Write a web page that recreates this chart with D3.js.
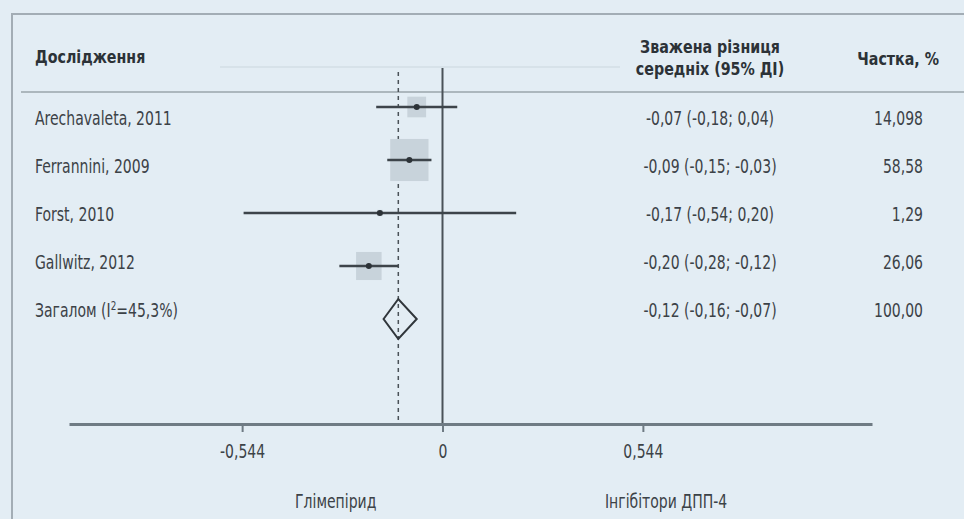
<!DOCTYPE html>
<html>
<head>
<meta charset="utf-8">
<script src="https://cdn.jsdelivr.net/npm/d3@7"></script>
<style>
  body { margin: 0; background: #e3edf4; }
  svg { display: block; }
  text { font-family: "DejaVu Sans Condensed", "Liberation Sans Narrow", sans-serif; fill: #3c4247; }
  .head { font-weight: bold; fill: #2c3237; }
</style>
</head>
<body>
<svg id="forest" width="964" height="519"></svg>
<script>
/* DATA */

const studies = ['Arechavaleta, 2011', 'Ferrannini, 2009', 'Forst, 2010', 'Gallwitz, 2012']
const estimates = [-0.07, -0.09, -0.17, -0.20]
const lower = [-0.18, -0.15, -0.54, -0.28]
const upper = [0.04, -0.03, 0.20, -0.12]
const weights = [14.098, 58.58, 1.29, 26.06]

const overallLabel = 'Загалом (I'
const overall = { est: -0.12, lo: -0.16, hi: -0.07, weight: '100,00', i2: '=45,3%)' }

const tickValues = [-0.544, 0, 0.544]
const sideLabels = ['Глімепірид', 'Інгібітори ДПП-4']

/* HELPERS */

const comma = v => v.toFixed(2).replace('.', ',')
const ciText = (e, l, u) => `${comma(e)} (${comma(l)}; ${comma(u)})`
const weightText = w => String(w).replace('.', ',')

// condensed look: squeeze text horizontally around its anchor point
const squeeze = 0.82
const squeezeBold = 0.88

function addText (parent, x, y, str, anchor, size, bold) {
  const t = parent.append('g')
    .attr('transform', `translate(${x},${y}) scale(${bold ? squeezeBold : squeeze},1)`)
    .append('text')
    .attr('text-anchor', anchor || 'start')
    .style('font-size', (size || 19) + 'px')
  if (bold) t.attr('class', 'head')
  if (str !== null) t.text(str)
  return t
}

/* LAYOUT */

const svg = d3.select('#forest')
const rowIds = d3.range(studies.length + 1)

// pixel scale: zero at 442.7, 0.544 ~ 200 px
const x = d3.scaleLinear().domain([-1.014, 1.166]).range([69, 872])
const yMark = d3.scalePoint().domain(rowIds).range([107, 319])
const yText = d3.scalePoint().domain(rowIds).range([125, 317])
const boxW = d3.scaleSqrt().domain([0, 100]).range([0, 50])

const lineCol = '#3d444a'
const axisY = 424

// Frame
svg.append('path')
  .attr('d', 'M12,519 V14 H964')
  .attr('fill', 'none')
  .attr('stroke', '#a3adb5')
  .attr('stroke-width', 2)

// Faint line above plot
svg.append('line')
  .attr('x1', 220).attr('x2', 620)
  .attr('y1', 67).attr('y2', 67)
  .attr('stroke', '#d3dee6')
  .attr('stroke-width', 1.5)

// Header rule
svg.append('line')
  .attr('x1', 21).attr('x2', 964)
  .attr('y1', 92).attr('y2', 92)
  .attr('stroke', '#9aa4ab')
  .attr('stroke-width', 1.5)

/* HEADERS */

addText(svg, 35, 63, 'Дослідження', 'start', 18, true)
addText(svg, 710, 53, 'Зважена різниця', 'middle', 18, true)
addText(svg, 710, 75, 'середніх (95% ДІ)', 'middle', 18, true)
addText(svg, 939, 65, 'Частка, %', 'end', 18, true)

/* REFERENCE LINES */

svg.append('line')
  .attr('x1', x(0)).attr('x2', x(0))
  .attr('y1', 68).attr('y2', axisY)
  .attr('stroke', '#4a5258')
  .attr('stroke-width', 2)

svg.append('line')
  .attr('x1', x(overall.est)).attr('x2', x(overall.est))
  .attr('y1', 72).attr('y2', axisY)
  .attr('stroke', '#4a5258')
  .attr('stroke-width', 1.5)
  .attr('stroke-dasharray', '4,4')

/* STUDY ROWS */

const rows = svg.append('g')

studies.forEach((s, i) => {
  const g = rows.append('g')
  const bw = boxW(weights[i])
  const bh = bw * 1.1

  g.append('rect')
    .attr('x', x(estimates[i]) - bw / 2)
    .attr('y', yMark(i) - bh / 2)
    .attr('width', bw)
    .attr('height', bh)
    .attr('fill', '#c8d3db')

  g.append('line')
    .attr('x1', x(lower[i])).attr('x2', x(upper[i]))
    .attr('y1', yMark(i)).attr('y2', yMark(i))
    .attr('stroke', lineCol)
    .attr('stroke-width', 2.5)

  g.append('circle')
    .attr('cx', x(estimates[i]))
    .attr('cy', yMark(i))
    .attr('r', 3)
    .attr('fill', '#2c3237')

  addText(g, 35, yText(i), s, 'start')
  addText(g, 710, yText(i), ciText(estimates[i], lower[i], upper[i]), 'middle')
  addText(g, 923, yText(i), weightText(weights[i]), 'end')
})

/* OVERALL */

const k = studies.length
const dy = 20
svg.append('path')
  .attr('d', `M${x(overall.lo)},${yMark(k)} L${x(overall.est)},${yMark(k) - dy} L${x(overall.hi)},${yMark(k)} L${x(overall.est)},${yMark(k) + dy} Z`)
  .attr('fill', 'none')
  .attr('stroke', '#30363b')
  .attr('stroke-width', 2)

const ov = addText(svg, 35, yText(k), null, 'start')
ov.append('tspan').text(overallLabel)
ov.append('tspan').attr('dy', -7).style('font-size', '12px').text('2')
ov.append('tspan').attr('dy', 7).text(overall.i2)

addText(svg, 710, yText(k), ciText(overall.est, overall.lo, overall.hi), 'middle')
addText(svg, 923, yText(k), overall.weight, 'end')

/* AXIS */

const axis = d3.axisBottom(x)
  .tickValues(tickValues)
  .tickSize(8)
  .tickSizeOuter(0)
  .tickPadding(13)
  .tickFormat(d => d === 0 ? '0' : d3.format('.3f')(d).replace('.', ',').replace('−', '-'))

const ag = svg.append('g')
  .attr('transform', `translate(0,${axisY})`)
  .call(axis)

ag.select('.domain').attr('stroke', '#6f7b84').attr('stroke-width', 3)
ag.selectAll('.tick line').attr('stroke', '#6f7b84').attr('stroke-width', 2)
ag.selectAll('.tick text')
  .style('font-size', '19px')
  .attr('fill', '#3c4247')
  .attr('transform', `scale(${squeeze},1)`)
  .style('font-family', '"DejaVu Sans Condensed", "Liberation Sans Narrow", sans-serif')

sideLabels.forEach((d, i) => {
  addText(svg, i === 0 ? x(-0.29) : x(0.607), 508, d, 'middle')
})
</script>
</body>
</html>
